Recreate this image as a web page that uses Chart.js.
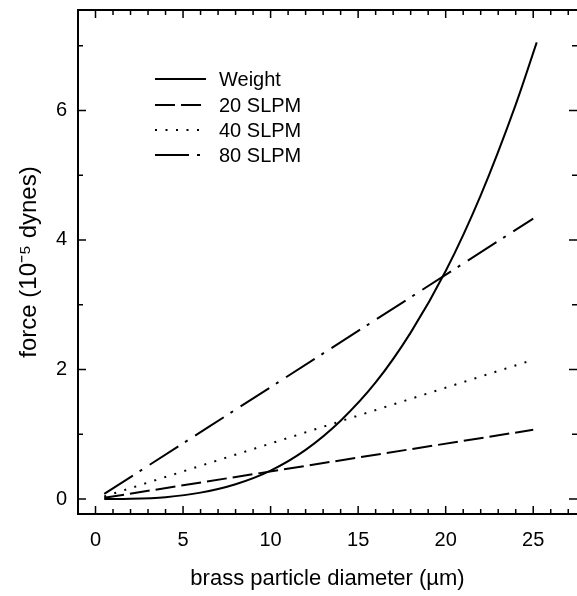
<!DOCTYPE html>
<html>
<head>
<meta charset="utf-8">
<script src="https://cdn.jsdelivr.net/npm/chart.js@4.4.1/dist/chart.umd.min.js"></script>
<style>
  html, body { margin: 0; padding: 0; background: #fff; }
  #wrap { width: 577px; height: 596px; }
</style>
</head>
<body>
<div id="wrap"><canvas id="forceChart"></canvas></div>
<script>
// Values
const seriesNames = ['Weight', '20 SLPM', '40 SLPM', '80 SLPM'];

// weight curve (diameter in um, force in 1e-5 dynes)
const weightD = [0.5, 2, 4, 6, 8, 10, 12, 14, 16, 18, 20, 22, 24, 25.2];
const weightF = [0.0, 0.004, 0.03, 0.1, 0.23, 0.44, 0.76, 1.21, 1.8, 2.57, 3.52, 4.69, 6.09, 7.05];

// drag force lines
const dragD = [0.5, 25];
const drag20 = [0.02, 1.07];
const drag40 = [0.04, 2.15];
const drag80 = [0.08, 4.33];

const xTicks = [0, 5, 10, 15, 20, 25];
const yTicks = [0, 2, 4, 6];

const FONT = '"Liberation Sans", Arial, sans-serif';

function pts(xs, ys) {
  return xs.map((x, i) => ({ x: x, y: ys[i] }));
}

function lineSet(label, data, dash) {
  return {
    label: label,
    data: data,
    showLine: true,
    borderColor: '#000',
    backgroundColor: '#000',
    borderWidth: 2,
    borderDash: dash,
    pointRadius: 0,
    cubicInterpolationMode: 'monotone'
  };
}

// frame (right edge falls off the page) + inward ticks on all four sides
const frameTicks = {
  id: 'frameTicks',
  afterDraw(chart) {
    const { ctx, chartArea: a, scales } = chart;
    const xs = scales.x, ys = scales.y;
    ctx.save();
    ctx.strokeStyle = '#000';
    ctx.lineWidth = 2;
    ctx.setLineDash([]);
    ctx.beginPath();
    ctx.moveTo(a.right + 2, a.top);
    ctx.lineTo(a.left, a.top);
    ctx.lineTo(a.left, a.bottom);
    ctx.lineTo(a.right + 2, a.bottom);
    ctx.stroke();
    ctx.lineWidth = 1.5;
    ctx.beginPath();
    for (let v = 0; v <= 27; v++) {
      const px = xs.getPixelForValue(v);
      const len = v % 5 === 0 ? 8 : 5;
      ctx.moveTo(px, a.bottom); ctx.lineTo(px, a.bottom - len);
      ctx.moveTo(px, a.top); ctx.lineTo(px, a.top + len);
    }
    for (let v = 0; v <= 7; v++) {
      const py = ys.getPixelForValue(v);
      const len = v % 2 === 0 ? 8 : 5;
      ctx.moveTo(a.left, py); ctx.lineTo(a.left + len, py);
      ctx.moveTo(a.right, py); ctx.lineTo(a.right - len, py);
    }
    ctx.stroke();
    ctx.restore();
  }
};

// legend drawn inside the plot, upper left
const innerLegend = {
  id: 'innerLegend',
  afterDraw(chart) {
    const { ctx } = chart;
    const x0 = 155, x1 = 206, tx = 219;
    const rows = [79, 105, 130, 155];
    ctx.save();
    ctx.font = '20px ' + FONT;
    ctx.fillStyle = '#000';
    ctx.textBaseline = 'middle';
    chart.data.datasets.forEach((ds, i) => {
      ctx.strokeStyle = '#000';
      ctx.lineWidth = 2;
      ctx.setLineDash(ds.borderDash || []);
      ctx.beginPath();
      ctx.moveTo(x0, rows[i]);
      ctx.lineTo(x1, rows[i]);
      ctx.stroke();
      ctx.fillText(ds.label, tx, rows[i] + 1);
    });
    ctx.restore();
  }
};

new Chart(document.getElementById('forceChart'), {
  type: 'scatter',
  data: {
    datasets: [
      lineSet(seriesNames[0], pts(weightD, weightF), []),
      lineSet(seriesNames[1], pts(dragD, drag20), [20, 6]),
      lineSet(seriesNames[2], pts(dragD, drag40), [2, 8.5]),
      lineSet(seriesNames[3], pts(dragD, drag80), [34, 8, 3, 9])
    ]
  },
  options: {
    responsive: true,
    maintainAspectRatio: false,
    animation: false,
    layout: { padding: { top: 10, right: 0, left: 0, bottom: 0 } },
    plugins: {
      legend: { display: false },
      tooltip: { enabled: false }
    },
    scales: {
      x: {
        type: 'linear',
        min: -1,
        max: 27.5,
        grid: { display: false, drawTicks: false },
        border: { display: false },
        afterBuildTicks: s => { s.ticks = xTicks.map(v => ({ value: v })); },
        afterFit: s => { s.height = 82; s.paddingLeft = 0; s.paddingRight = 0; },
        ticks: {
          color: '#000',
          padding: 14,
          font: { family: FONT, size: 20 }
        },
        title: {
          display: true,
          text: 'brass particle diameter (\u00b5m)',
          color: '#000',
          padding: { top: 14 },
          font: { family: FONT, size: 22 }
        }
      },
      y: {
        type: 'linear',
        min: -0.23,
        max: 7.55,
        grid: { display: false, drawTicks: false },
        border: { display: false },
        afterBuildTicks: s => { s.ticks = yTicks.map(v => ({ value: v })); },
        afterFit: s => { s.width = 78; s.paddingTop = 0; s.paddingBottom = 0; },
        ticks: {
          color: '#000',
          padding: 11,
          font: { family: FONT, size: 20 }
        },
        title: {
          display: true,
          text: 'force (10\u207b\u2075 dynes)',
          color: '#000',
          padding: { top: 15, bottom: 0 },
          font: { family: FONT, size: 24 }
        }
      }
    }
  },
  plugins: [frameTicks, innerLegend]
});
</script>
</body>
</html>
